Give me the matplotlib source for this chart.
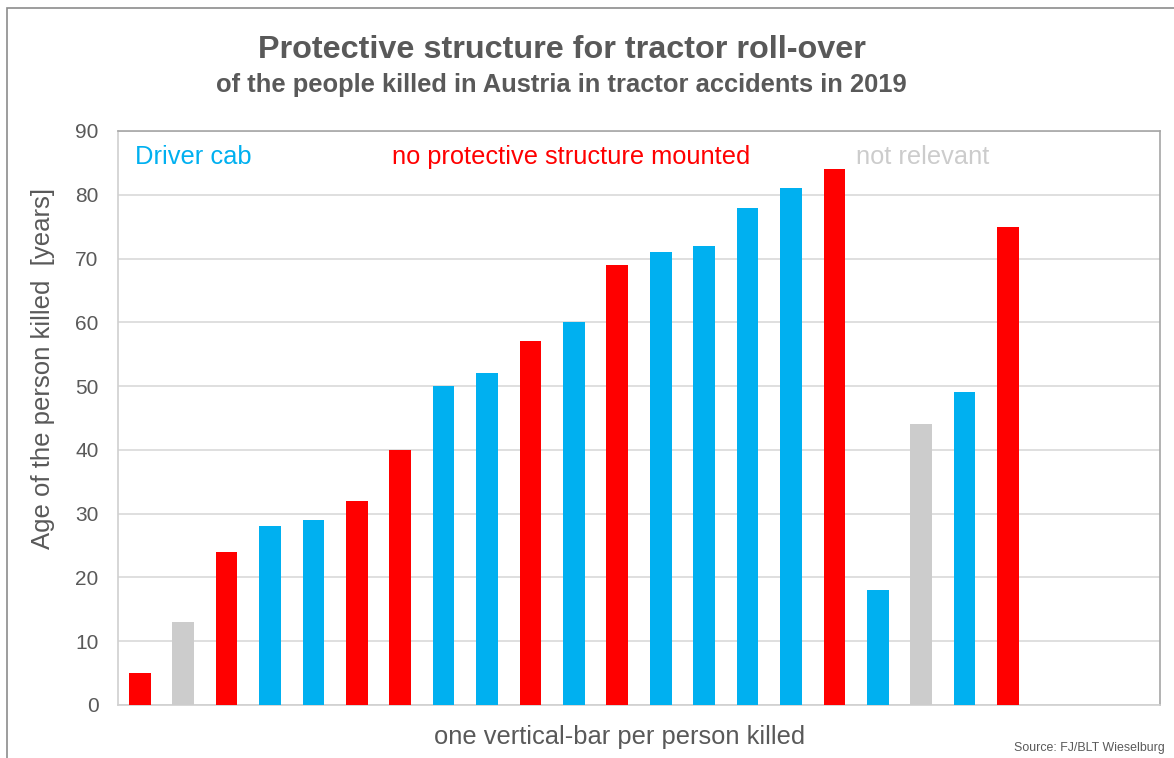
import matplotlib.pyplot as plt
from matplotlib.patches import Rectangle

BLUE = '#00B0F0'
RED = '#FF0000'
GREY = '#CCCCCC'

ages = [5, 13, 24, 28, 29, 32, 40, 50, 52, 57, 60, 69, 71, 72, 78, 81, 84, 18, 44, 49, 75]
groups = ['none', 'na', 'none', 'cab', 'cab', 'none', 'none', 'cab', 'cab', 'none', 'cab',
          'none', 'cab', 'cab', 'cab', 'cab', 'none', 'cab', 'na', 'cab', 'none']
n_slots = 24
yticks = [0, 10, 20, 30, 40, 50, 60, 70, 80, 90]

group_colors = {'cab': BLUE, 'none': RED, 'na': GREY}

plt.rcParams['font.family'] = ['Liberation Sans', 'DejaVu Sans']
txt = '#595959'

fig = plt.figure(figsize=(11.74, 7.58), dpi=100)
W, H = 1174, 758
ax = fig.add_axes([118 / W, 1 - 705 / H, (1160 - 118) / W, (705 - 131) / H])

# outer frame of the picture
fig.patches.append(Rectangle((7 / W, -0.05), 1.2, 1 - 8 / H + 0.05, transform=fig.transFigure,
                             fill=False, edgecolor='#8C8C8C', linewidth=1.2))

x = list(range(len(ages)))
ax.bar(x, ages, width=0.5, color=[group_colors[g] for g in groups], zorder=3)

ax.set_xlim(-0.5, n_slots - 0.5)
ax.set_ylim(0, 90)
ax.set_yticks(yticks)
ax.set_xticks([])
ax.tick_params(axis='y', length=0, labelsize=15, labelcolor=txt, pad=14)
ax.grid(axis='y', color='#D9D9D9', linewidth=1.2, zorder=0)
for side in ['top', 'right']:
    ax.spines[side].set_color('#A6A6A6')
for side in ['left', 'bottom']:
    ax.spines[side].set_color('#D0D0D0')
for s in ax.spines.values():
    s.set_linewidth(1.2)

ax.set_ylabel('Age of the person killed  [years]', fontsize=18.5, color=txt, va='center')
ax.yaxis.set_label_coords((43 - 118) / 1042, (705 - 368) / 574)
ax.set_xlabel('one vertical-bar per person killed', fontsize=18.4, color=txt, va='center')
ax.xaxis.set_label_coords((620 - 118) / 1042, (705 - 737) / 574)

ax.text(-0.1, 86.0, 'Driver cab', color=BLUE, fontsize=18.4, va='center', ha='left', zorder=4)
ax.text(5.8, 86.0, 'no protective structure mounted', color=RED, fontsize=18.3, va='center', ha='left', zorder=4)
ax.text(16.5, 86.0, 'not relevant', color=GREY, fontsize=18.3, va='center', ha='left', zorder=4)

fig.text(562 / W, 1 - 50 / H, 'Protective structure for tractor roll-over', ha='center', va='center',
         fontsize=23.3, fontweight='bold', color=txt)
fig.text(561 / W, 1 - 85 / H, 'of the people killed in Austria in tractor accidents in 2019', ha='center',
         va='center', fontsize=18.4, fontweight='bold', color=txt)
fig.text(1165 / W, 1 - 748 / H, 'Source: FJ/BLT Wieselburg', ha='right', va='center', fontsize=8.9, color=txt)

fig.savefig('out.png', dpi=100)
